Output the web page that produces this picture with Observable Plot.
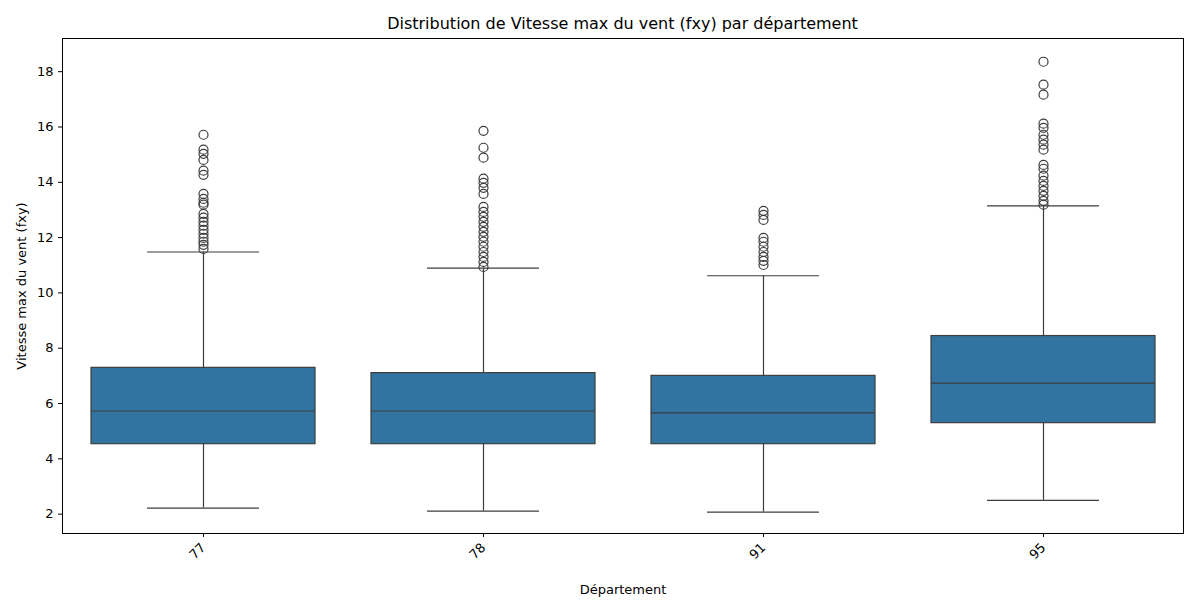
<!DOCTYPE html>
<html><head><meta charset="utf-8">
<script src="https://cdn.jsdelivr.net/npm/d3@7"></script>
<script src="https://cdn.jsdelivr.net/npm/@observablehq/plot@0.6"></script>
<style>
body{margin:0;background:#fff;font-family:"DejaVu Sans",sans-serif}
#title{height:38px;line-height:48px;text-align:center;font-size:16px;color:#000;padding-left:45px}
</style></head><body>
<div id="title">Distribution de Vitesse max du vent (fxy) par département</div>
<div id="chart"></div>
<script>
const departements = ["77", "78", "91", "95"];
const q1 = [4.53, 4.53, 4.53, 5.29];
const mediane = [5.73, 5.73, 5.66, 6.74];
const q3 = [7.29, 7.10, 7.00, 8.44];
const moustacheBas = [2.22, 2.11, 2.07, 2.50];
const moustacheHaut = [11.48, 10.90, 10.62, 13.15];
const aberrants = {
  "77": [15.72,15.18,15.03,14.81,14.42,14.27,13.58,13.40,13.26,13.19,12.86,12.72,12.57,12.43,12.28,12.14,11.99,11.85,11.74,11.59],
  "78": [15.86,15.25,14.89,14.13,13.98,13.80,13.58,13.11,12.93,12.75,12.57,12.39,12.21,12.03,11.85,11.67,11.48,11.30,11.12,10.94],
  "91": [12.97,12.82,12.64,11.99,11.85,11.67,11.48,11.30,11.16,11.01],
  "95": [18.36,17.53,17.17,16.12,15.97,15.72,15.54,15.36,15.18,14.63,14.49,14.24,14.05,13.87,13.69,13.51,13.33,13.19]
};

const stats = departements.map((d, i) => ({dep: d, q1: q1[i], med: mediane[i], q3: q3[i], lo: moustacheBas[i], hi: moustacheHaut[i]}));
const points = departements.flatMap(d => aberrants[d].map(v => ({dep: d, v})));

const width = 1200, ml = 62, mr = 17;
const capInset = (width - ml - mr) / 4 * 0.8 * 0.25;
const grey = "#3d3d3d";

const chart = Plot.plot({
  width, height: 562,
  marginLeft: ml, marginRight: mr, marginTop: 0, marginBottom: 67,
  style: {fontSize: "13px", fontFamily: "DejaVu Sans, sans-serif", color: "#000"},
  x: {domain: departements, paddingInner: 0.2, paddingOuter: 0.1, label: "Département", labelAnchor: "center", labelOffset: 60, tickRotate: -45, tickSize: 4},
  y: {domain: [1.3, 19.2], ticks: d3.range(2, 19, 2), label: "Vitesse max du vent (fxy)", labelAnchor: "center", labelOffset: 46, labelArrow: "none", tickSize: 4},
  marks: [
    Plot.ruleX(stats, {x: "dep", y1: "lo", y2: "q1", stroke: grey, strokeWidth: 1.2}),
    Plot.ruleX(stats, {x: "dep", y1: "q3", y2: "hi", stroke: grey, strokeWidth: 1.2}),
    Plot.tickY(stats, {x: "dep", y: "lo", stroke: grey, strokeWidth: 1.2, insetLeft: capInset, insetRight: capInset}),
    Plot.tickY(stats, {x: "dep", y: "hi", stroke: grey, strokeWidth: 1.2, insetLeft: capInset, insetRight: capInset}),
    Plot.barY(stats, {x: "dep", y1: "q1", y2: "q3", fill: "#3274a1", stroke: grey, strokeWidth: 1.2}),
    Plot.tickY(stats, {x: "dep", y: "med", stroke: grey, strokeWidth: 1.2}),
    Plot.dot(points, {x: "dep", y: "v", r: 4.5, stroke: grey, strokeWidth: 1.2, fill: "none"}),
    Plot.frame({stroke: "#000", strokeWidth: 1})
  ]
});
document.getElementById("chart").append(chart);
</script>
</body></html>
